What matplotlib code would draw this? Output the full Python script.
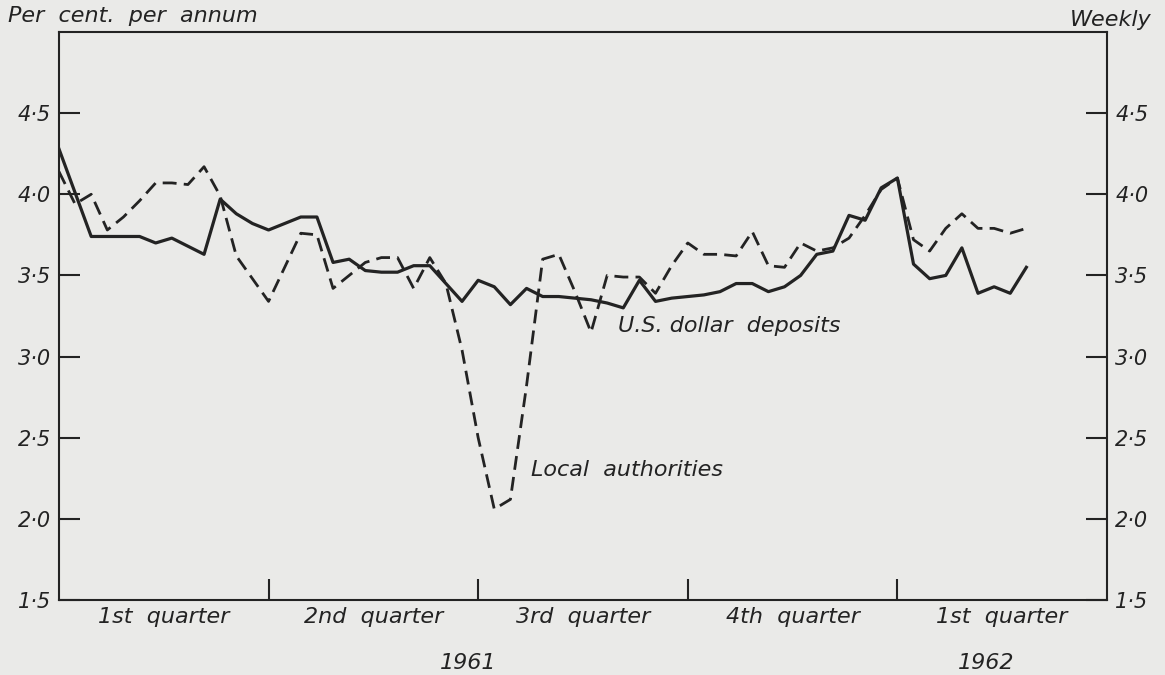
import numpy as np
import matplotlib
matplotlib.use("Agg")
import matplotlib.pyplot as plt
import matplotlib.transforms as mtransforms

# weekly observations, week 0 = start of 1961
weeks = np.arange(61)

us_dollar_deposits = [
    4.28, 4.01, 3.74, 3.74, 3.74, 3.74, 3.70, 3.73, 3.68, 3.63,
    3.97, 3.88, 3.82, 3.78, 3.82, 3.86, 3.86, 3.58, 3.60, 3.53,
    3.52, 3.52, 3.56, 3.56, 3.45, 3.34, 3.47, 3.43, 3.32, 3.42,
    3.37, 3.37, 3.36, 3.35, 3.33, 3.30, 3.47, 3.34, 3.36, 3.37,
    3.38, 3.40, 3.45, 3.45, 3.40, 3.43, 3.50, 3.63, 3.65, 3.87,
    3.84, 4.04, 4.10, 3.57, 3.48, 3.50, 3.67, 3.39, 3.43, 3.39,
    3.55,
]

local_authorities = [
    4.14, 3.94, 4.00, 3.78, 3.86, 3.96, 4.07, 4.07, 4.06, 4.17,
    3.99, 3.62, 3.48, 3.34, 3.55, 3.76, 3.75, 3.42, 3.50, 3.58,
    3.61, 3.61, 3.42, 3.61, 3.45, 3.04, 2.50, 2.06, 2.12, 2.82,
    3.60, 3.63, 3.40, 3.15, 3.50, 3.49, 3.49, 3.39, 3.56, 3.70,
    3.63, 3.63, 3.62, 3.77, 3.56, 3.55, 3.70, 3.65, 3.67, 3.73,
    3.87, 4.03, 4.10, 3.72, 3.65, 3.79, 3.88, 3.79, 3.79, 3.76,
    3.79,
]

quarter_ticks = [13, 26, 39, 52]
quarter_labels = ["1st  quarter", "2nd  quarter", "3rd  quarter", "4th  quarter", "1st  quarter"]
quarter_centres = [6.5, 19.5, 32.5, 45.5, 58.5]
years = ["1961", "1962"]
year_pos = [25.4, 57.5]
yticks = [1.5, 2.0, 2.5, 3.0, 3.5, 4.0, 4.5]
ytick_labels = [f"{v:.1f}".replace(".", "\u00b7") for v in yticks]

bg = "#eaeae8"
ink = "#232323"

plt.rcParams['font.family'] = ['DejaVu Sans']
plt.rcParams['font.style'] = 'oblique'
fs = 15

fig = plt.figure(figsize=(11.65, 6.75), dpi=100, facecolor=bg)
ax = fig.add_axes([0.0506, 0.1111, 0.8996, 0.8415], facecolor=bg)

ax.plot(weeks, us_dollar_deposits, color=ink, lw=2.3)
ax.plot(weeks, local_authorities, color=ink, lw=2.0, dashes=(5, 2.6))

ax.set_xlim(0, 65)
ax.set_ylim(1.5, 5.0)

for s in ax.spines.values():
    s.set_color(ink)
    s.set_linewidth(1.5)

ax.set_xticks(quarter_ticks)
ax.set_xticklabels([])
ax.tick_params(axis='x', direction='in', length=15, width=1.5, color=ink)

ax.set_yticks(yticks)
ax.set_yticklabels(ytick_labels)
ax.tick_params(axis='y', direction='in', length=15, width=1.5, color=ink,
               left=True, right=True, labelleft=True, labelright=True,
               labelsize=fs, labelcolor=ink, pad=6)

trans = mtransforms.blended_transform_factory(ax.transData, ax.transAxes)
for xc, lab in zip(quarter_centres, quarter_labels):
    ax.text(xc, -0.03, lab, transform=trans, ha='center', va='center',
            fontsize=fs + 1, color=ink)
for xc, lab in zip(year_pos, years):
    ax.text(xc, -0.111, lab, transform=trans, ha='center', va='center',
            fontsize=fs + 1, color=ink)

ax.text(34.7, 3.19, "U.S. dollar  deposits", fontsize=fs + 1, color=ink,
        ha='left', va='center')
ax.text(29.3, 2.30, "Local  authorities", fontsize=fs + 1, color=ink,
        ha='left', va='center')

fig.text(0.007, 0.976, "Per  cent.  per  annum", fontsize=fs + 1, color=ink,
         ha='left', va='center')
fig.text(0.988, 0.971, "Weekly", fontsize=fs + 1, color=ink,
         ha='right', va='center')

fig.savefig("out.png", dpi=100, facecolor=bg)
